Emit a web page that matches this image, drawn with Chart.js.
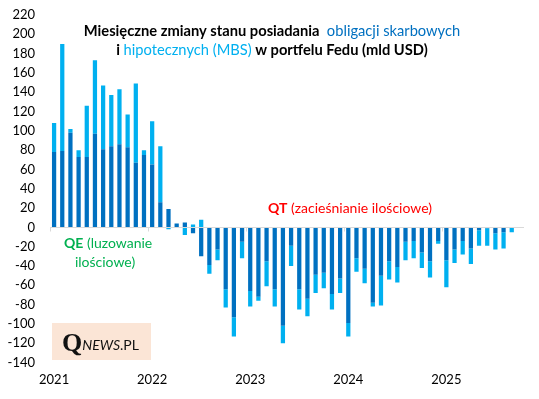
<!DOCTYPE html>
<html>
<head>
<meta charset="utf-8">
<script src="https://cdn.jsdelivr.net/npm/chart.js@4"></script>
<style>
html, body { margin: 0; padding: 0; background: #fff; }
#wrap { width: 539px; height: 399px; position: relative; }
</style>
</head>
<body>
<div id="wrap"><canvas id="chart" width="539" height="399"></canvas></div>
<script>
// lata na osi X (etykieta pod styczniem)
const lata = ['2021', '2022', '2023', '2024', '2025'];
const ileMiesiecy = 58; // sty 2021 - paz 2025 (ostatni pusty)

// obligacje skarbowe (ciemnoniebieskie), mld USD
const skarbowe = [
  78, 79, 98, 73, 73, 97, 81, 84, 86, 83, 67, 75,
  65, 26, 19, 4, 5, -6, -30, -39, -23, -64, -93, -15,
  -66, -72, -35, -64, -102, -19, -64, -74, -49, -47, -69, -53,
  -99, -32, -43, -78, -50, -35, -41, -15, -14, -26, -35, -14,
  -34, -23, -14, -22, -3, -1, -6, -5, 0
];
// MBS (jasnoniebieskie), mld USD
const mbs = [
  30, 111, 4, 7, 53, 76, 66, 53, 57, 34, 82, 5,
  45, 58, -2, 0, -8, 3, 8, -9, -11, -19, -20, -17,
  -16, -4, -26, -18, -18, -21, -21, -18, -19, -16, -16, -15,
  -14, -14, -15, -4, -31, -19, -16, -19, -18, -16, -17, -3,
  -28, -14, -14, -16, -16, -18, -17, -17, -5
];

const labels = [];
for (let i = 0; i < ileMiesiecy; i++) {
  const rok = lata[Math.floor(i / 12)] || '2025';
  labels.push(rok + '-' + String(i % 12 + 1).padStart(2, '0'));
}

const FONT = 'Lato';
const ciemny = '#0070C0', jasny = '#00B0F0';

// linia zera + kreski lat + opisy
const dodatki = {
  id: 'dodatki',
  afterDraw(chart) {
    const { ctx, chartArea: a, scales: { x, y } } = chart;
    const y0 = Math.round(y.getPixelForValue(0)) + 0.5;
    ctx.save();
    ctx.strokeStyle = '#D9D9D9';
    ctx.lineWidth = 1;
    ctx.beginPath();
    ctx.moveTo(a.left, y0); ctx.lineTo(a.right, y0);
    const krok = (x.getPixelForValue(1) - x.getPixelForValue(0));
    labels.forEach((l, i) => {
      if (l.endsWith('-01')) {
        const px = Math.round(x.getPixelForValue(i) - krok / 2) + 0.5;
        ctx.moveTo(px, y0); ctx.lineTo(px, y0 + 4);
      }
    });
    ctx.stroke();

    // tytul
    const linie = [
      [['Miesięczne zmiany stanu posiadania ', '#000', 'bold'], [' obligacji skarbowych', ciemny, 'normal']],
      [['i ', '#000', 'bold'], ['hipotecznych (MBS)', jasny, 'normal'], [' w portfelu Fedu (mld USD)', '#000', 'bold']]
    ];
    ctx.textBaseline = 'middle';
    ctx.textAlign = 'left';
    [31, 50].forEach((ty, k) => {
      let w = 0;
      linie[k].forEach(s => { ctx.font = s[2] + ' 14.7px ' + FONT; w += ctx.measureText(s[0]).width; });
      let tx = 272 - w / 2;
      linie[k].forEach(s => {
        ctx.font = s[2] + ' 14.7px ' + FONT;
        ctx.fillStyle = s[1];
        ctx.fillText(s[0], tx, ty);
        tx += ctx.measureText(s[0]).width;
      });
    });

    // QT
    ctx.fillStyle = '#FF0000';
    ctx.font = 'bold 14px ' + FONT;
    ctx.fillText('QT', 268, 208);
    let qw = ctx.measureText('QT').width;
    ctx.font = '14px ' + FONT;
    ctx.fillText(' (zacieśnianie ilościowe)', 268 + qw, 208);

    // QE
    ctx.fillStyle = '#00B050';
    ctx.font = 'bold 14px ' + FONT;
    ctx.fillText('QE', 64, 243);
    qw = ctx.measureText('QE').width;
    ctx.font = '14px ' + FONT;
    ctx.fillText(' (luzowanie', 64 + qw, 243);
    ctx.textAlign = 'center';
    ctx.fillText('ilościowe)', 105, 262);

    // logo
    ctx.fillStyle = '#FBE5D6';
    ctx.fillRect(52, 323, 99, 37);
    ctx.textAlign = 'left';
    ctx.textBaseline = 'alphabetic';
    ctx.fillStyle = '#111';
    ctx.font = 'bold 26px "Liberation Serif"';
    ctx.fillText('Q', 62, 351);
    let lx = 62 + ctx.measureText('Q').width;
    ctx.font = 'italic 14px ' + FONT;
    ctx.fillText('NEWS', lx, 350);
    lx += ctx.measureText('NEWS').width;
    ctx.font = '14px ' + FONT;
    ctx.fillText('.PL', lx, 350);
    ctx.restore();
  }
};

new Chart(document.getElementById('chart'), {
  type: 'bar',
  data: {
    labels,
    datasets: [
      { label: 'obligacje skarbowe', data: skarbowe, backgroundColor: ciemny, borderWidth: 0 },
      { label: 'MBS', data: mbs, backgroundColor: jasny, borderWidth: 0 }
    ]
  },
  options: {
    responsive: false,
    animation: false,
    layout: { padding: { top: 15, right: 15, bottom: 0, left: 0 } },
    datasets: { bar: { categoryPercentage: 1, barPercentage: 0.52 } },
    plugins: { legend: { display: false }, tooltip: { enabled: false } },
    scales: {
      x: {
        stacked: true,
        grid: { display: false, drawTicks: false },
        border: { display: false },
        afterFit: s => { s.height = 36.5; },
        ticks: {
          autoSkip: false, maxRotation: 0, padding: 10,
          color: '#000', font: { family: FONT, size: 13 },
          callback: function (v) {
            const l = labels[v];
            return l.endsWith('-01') ? l.slice(0, 4) : '';
          }
        }
      },
      y: {
        stacked: true,
        min: -140, max: 220,
        grid: { display: false, drawTicks: false },
        border: { display: false },
        afterFit: s => { s.width = 50; s.paddingTop = 8; s.paddingBottom = 8; },
        ticks: { stepSize: 20, padding: 15, color: '#000', font: { family: FONT, size: 13 } }
      }
    }
  },
  plugins: [dodatki]
});
</script>
</body>
</html>
